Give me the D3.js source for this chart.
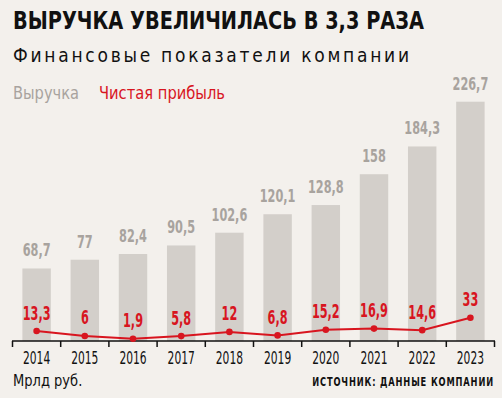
<!DOCTYPE html>
<html><head><meta charset="utf-8">
<script src="https://cdn.jsdelivr.net/npm/d3@7"></script>
<style>
html,body{margin:0;padding:0;background:#f3f0ec;}
svg{display:block;}
text{font-family:"DejaVu Sans Condensed","Liberation Sans Narrow",sans-serif;}
</style></head>
<body>
<script>
const years = ["2014","2015","2016","2017","2018","2019","2020","2021","2022","2023"];
const revenue = [68.7,77,82.4,90.5,102.6,120.1,128.8,158,184.3,226.7];
const profit = [13.3,6,1.9,5.8,12,6.8,15.2,16.9,14.6,33];
const revenueLabels = ["68,7","77","82,4","90,5","102,6","120,1","128,8","158","184,3","226,7"];
const profitLabels = ["13,3","6","1,9","5,8","12","6,8","15,2","16,9","14,6","33"];

const W=502,H=398;
const gray="#a8a39e", barC="#d3cfca", red="#d8151f";
const svg=d3.select("body").append("svg").attr("width",W).attr("height",H);
svg.append("rect").attr("width",W).attr("height",H).attr("fill","#f3f0ec");

svg.append("text").attr("x",13).attr("y",29).attr("font-size",24).attr("font-weight","bold")
  .attr("fill","#111").attr("textLength",411).attr("lengthAdjust","spacingAndGlyphs")
  .text("ВЫРУЧКА УВЕЛИЧИЛАСЬ В 3,3 РАЗА");
svg.append("text").attr("x",13).attr("y",62).attr("font-size",19)
  .attr("fill","#111").attr("textLength",396).attr("lengthAdjust","spacing")
  .text("Финансовые показатели компании");
svg.append("text").attr("x",13).attr("y",99).attr("font-size",18.5).attr("fill",gray)
  .attr("textLength",66).attr("lengthAdjust","spacingAndGlyphs").text("Выручка");
svg.append("text").attr("x",99).attr("y",99).attr("font-size",18.5).attr("fill",red)
  .attr("textLength",126).attr("lengthAdjust","spacingAndGlyphs").text("Чистая прибыль");

const x=d3.scaleBand().domain(years).range([12.5,494.5]).paddingInner(0.41).paddingOuter(0.205);
const y=d3.scaleLinear().domain([0,226.7]).range([341,101.7]);
const yp=d3.scaleLinear().domain([0,33]).range([340,317.7]);
const cx=d=>x(d)+x.bandwidth()/2;

svg.selectAll("rect.bar").data(years).join("rect").attr("class","bar")
  .attr("x",d=>x(d)).attr("width",x.bandwidth())
  .attr("y",(d,i)=>y(revenue[i])).attr("height",(d,i)=>y(0)-y(revenue[i]))
  .attr("fill",barC);
svg.selectAll("text.rv").data(years).join("text").attr("class","rv")
  .attr("transform",(d,i)=>`translate(${cx(d)},${y(revenue[i])-12}) scale(0.68,1)`)
  .attr("text-anchor","middle").attr("font-size",18.5).attr("font-weight","bold").attr("fill",gray)
  .text((d,i)=>revenueLabels[i]);

// axis
const step=x.step();
const ax=svg.append("g").attr("transform","translate(0,341)");
const edges=d3.range(years.length+1).map(i=>12.5+i*step);
ax.append("line").attr("x1",12).attr("x2",495).attr("stroke","#111").attr("stroke-width",1.6);
ax.selectAll("line.t").data(edges).join("line").attr("class","t")
  .attr("x1",d=>d).attr("x2",d=>d).attr("y1",0).attr("y2",6).attr("stroke","#111").attr("stroke-width",1.5);
ax.selectAll("text").data(years).join("text")
  .attr("transform",d=>`translate(${cx(d)},22.5) scale(0.68,1)`).attr("text-anchor","middle")
  .attr("font-size",17.5).attr("fill","#111").text(d=>d);

const line=d3.line().x((d,i)=>cx(years[i])).y(d=>yp(d));
svg.append("path").datum(profit).attr("d",line).attr("fill","none").attr("stroke",red).attr("stroke-width",2);
svg.selectAll("circle").data(profit).join("circle")
  .attr("cx",(d,i)=>cx(years[i])).attr("cy",d=>yp(d)).attr("r",3.3).attr("fill",red);
svg.selectAll("text.pv").data(profit).join("text").attr("class","pv")
  .attr("transform",(d,i)=>`translate(${cx(years[i])},${yp(d)-11.5}) scale(0.66,1)`)
  .attr("text-anchor","middle").attr("font-size",19).attr("font-weight","bold").attr("fill",red)
  .text((d,i)=>profitLabels[i]);

svg.append("text").attr("transform","translate(13,386) scale(0.88,1)").attr("font-size",16.5).attr("fill","#111")
  .text("Мрлд руб.");
svg.append("text").attr("transform","translate(494,386) scale(0.71,1)").attr("text-anchor","end")
  .attr("font-size",13).attr("font-weight","bold").attr("fill","#111").attr("letter-spacing",1.2)
  .text("ИСТОЧНИК: ДАННЫЕ КОМПАНИИ");
</script>
</body></html>
